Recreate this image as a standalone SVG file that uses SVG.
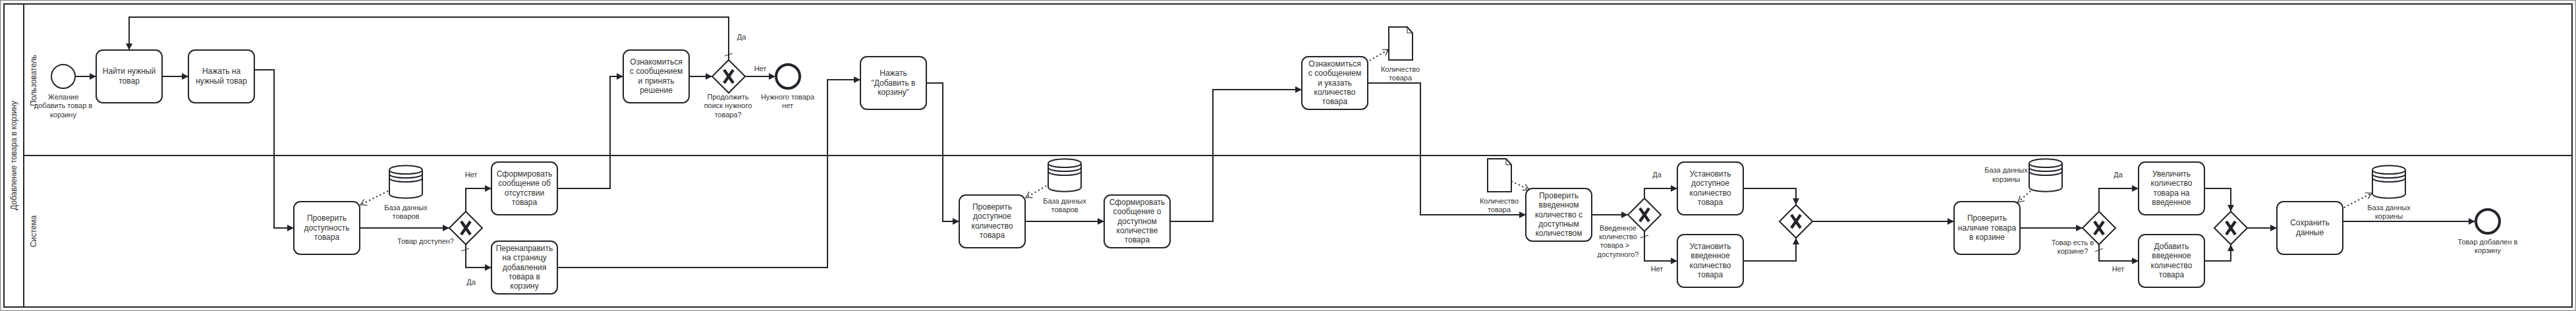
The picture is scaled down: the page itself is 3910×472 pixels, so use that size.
<svg xmlns="http://www.w3.org/2000/svg" width="3910" height="472" viewBox="0 0 3910 472">
<style>
text{font-family:"Liberation Sans",Arial,sans-serif;fill:#333;text-anchor:middle}
.t{font-size:12px}.l{font-size:11px}
.lane{font-size:12px}
.task{fill:#fff;stroke:#23252b;stroke-width:2}
.flow{fill:none;stroke:#23252b;stroke-width:2;marker-end:url(#arrow)}
.plain{fill:none;stroke:#23252b;stroke-width:1}
.data{fill:none;stroke:#23252b;stroke-width:2;stroke-dasharray:2 4;marker-end:url(#open)}
.shape{fill:#fff;stroke:#23252b;stroke-width:2}
.frame{fill:none;stroke:#23252b;stroke-width:2}
</style>
<defs>
<marker id="arrow" markerUnits="userSpaceOnUse" markerWidth="12" markerHeight="12" refX="10" refY="6" orient="auto"><path d="M0,1 L10,6 L0,11 Z" fill="#23252b"/></marker>
<marker id="open" markerUnits="userSpaceOnUse" markerWidth="14" markerHeight="14" refX="11" refY="7" orient="auto"><path d="M2,2 L11,7 L2,12" fill="none" stroke="#23252b" stroke-width="1.2"/></marker>
<g id="gw"><path class="shape" d="M0,-25 L25,0 L0,25 L-25,0 Z"/><path d="M-7,-10 L7,10 M7,-10 L-7,10" stroke="#23252b" stroke-width="4.500" fill="none"/></g>
<g id="db"><path class="shape" d="M0,7 C0,-2 50,-2 50,7 L50,43 C50,52 0,52 0,43 Z"/><path d="M0,7 C0,15 50,15 50,7 M0,13 C0,21 50,21 50,13 M0,19 C0,27 50,27 50,19" fill="none" stroke="#23252b" stroke-width="2"/></g>
<g id="doc"><path class="shape" d="M0,0 L28,0 L36,9 L36,50 L0,50 Z"/><path d="M28,0 L28,9 L36,9" fill="none" stroke="#23252b" stroke-width="1"/></g>
</defs>
<rect width="3910" height="472" fill="#fff"/>
<rect x="0.500" y="0.500" width="3909" height="471" fill="none" stroke="#8c8c8c" stroke-width="1.500"/>
<g id="pool">
<rect class="frame" x="6" y="6" width="3898" height="460"/>
<path class="frame" d="M36,6 V466 M36,236 H3904"/>
<text class="lane" transform="translate(25,236) rotate(-90)">Добавление товара в корзину</text>
<text class="lane" transform="translate(55,122) rotate(-90)">Пользователь</text>
<text class="lane" transform="translate(55,351) rotate(-90)">Система</text>
</g>
<g id="connectors">
<path class="flow" d="M114,116 H146"/>
<path class="flow" d="M246,116 H286"/>
<path class="flow" d="M386,106 H416 V346 H446"/>
<path class="flow" d="M546,346 H682"/>
<path class="flow" d="M707,321 V286 H746"/>
<path class="flow" d="M707,371 V406 H746"/>
<path class="plain" d="M700,381 L712,377"/>
<path class="flow" d="M846,286 H926 V116 H946"/>
<path class="flow" d="M846,406 H1256 V121 H1306"/>
<path class="flow" d="M1046,116 H1081"/>
<path class="flow" d="M1131,116 H1177"/>
<path class="flow" d="M1106,91 V26 H196 V76"/>
<path class="plain" d="M1100,85 L1112,81"/>
<path class="flow" d="M1406,126 H1431 V336 H1456"/>
<path class="flow" d="M1556,336 H1676"/>
<path class="flow" d="M1776,336 H1841 V136 H1976"/>
<path class="flow" d="M2076,126 H2156 V326 H2316"/>
<path class="flow" d="M2416,326 H2471"/>
<path class="flow" d="M2496,301 V286 H2546"/>
<path class="flow" d="M2496,351 V396 H2546"/>
<path class="plain" d="M2490,361 L2502,357"/>
<path class="flow" d="M2646,286 H2726 V311"/>
<path class="flow" d="M2646,396 H2726 V361"/>
<path class="flow" d="M2751,336 H2966"/>
<path class="flow" d="M3066,346 H3161"/>
<path class="flow" d="M3186,321 V286 H3246"/>
<path class="flow" d="M3186,371 V396 H3246"/>
<path class="plain" d="M3180,382 L3192,377"/>
<path class="flow" d="M3346,286 H3386 V321"/>
<path class="flow" d="M3346,396 H3386 V371"/>
<path class="flow" d="M3411,346 H3456"/>
<path class="flow" d="M3556,336 H3757"/>
<path class="data" d="M589,290 L547,311"/>
<path class="data" d="M1588,282 L1557,300"/>
<path class="data" d="M2079,92 L2108,75"/>
<path class="data" d="M2294,275 L2321,288"/>
<path class="data" d="M3082,290 L3063,307"/>
<path class="data" d="M3558,315 L3600,293"/>
</g>
<g id="start"><circle class="shape" cx="96" cy="116" r="18"/><text class="l" x="96" y="151">Желание</text><text class="l" x="96" y="164">добавить товар в</text><text class="l" x="96" y="178">корзину</text></g>
<g id="task-find"><rect class="task" x="146" y="76" width="100" height="80" rx="10"/><text class="t" x="196" y="112">Найти нужный</text><text class="t" x="196" y="127">товар</text></g>
<g id="task-click"><rect class="task" x="286" y="76" width="100" height="80" rx="10"/><text class="t" x="336" y="112">Нажать на</text><text class="t" x="336" y="127">нужный товар</text></g>
<g id="task-check"><rect class="task" x="446" y="306" width="100" height="80" rx="10"/><text class="t" x="496" y="335">Проверить</text><text class="t" x="496" y="350">доступность</text><text class="t" x="496" y="364">товара</text></g>
<g id="db-goods1"><use href="#db" x="591" y="251"/><text class="l" x="616" y="319">База данных</text><text class="l" x="616" y="332">товаров</text></g>
<g id="gw-available"><use href="#gw" x="707" y="346"/><text class="l" x="646" y="370">Товар доступен?</text><text class="l" x="715" y="269">Нет</text><text class="l" x="715" y="432">Да</text></g>
<g id="task-msg"><rect class="task" x="746" y="246" width="100" height="80" rx="10"/><text class="t" x="796" y="268">Сформировать</text><text class="t" x="796" y="282">сообщение об</text><text class="t" x="796" y="297">отсутствии</text><text class="t" x="796" y="311">товара</text></g>
<g id="task-redirect"><rect class="task" x="746" y="366" width="100" height="80" rx="10"/><text class="t" x="796" y="381">Перенаправить</text><text class="t" x="796" y="395">на страницу</text><text class="t" x="796" y="410">добавления</text><text class="t" x="796" y="424">товара в</text><text class="t" x="796" y="438">корзину</text></g>
<g id="task-read"><rect class="task" x="946" y="76" width="100" height="80" rx="10"/><text class="t" x="996" y="98">Ознакомиться</text><text class="t" x="996" y="112">с сообщением</text><text class="t" x="996" y="127">и принять</text><text class="t" x="996" y="141">решение</text></g>
<g id="gw-continue"><use href="#gw" x="1106" y="116"/><text class="l" x="1105" y="151">Продолжить</text><text class="l" x="1105" y="164">поиск нужного</text><text class="l" x="1105" y="178">товара?</text><text class="l" x="1125.500" y="60">Да</text><text class="l" x="1154" y="108">Нет</text></g>
<g id="end-none"><circle cx="1196" cy="116" r="18" fill="#fff" stroke="#23252b" stroke-width="4"/><text class="l" x="1195.500" y="151">Нужного товара</text><text class="l" x="1195.500" y="164">нет</text></g>
<g id="task-add"><rect class="task" x="1306" y="86" width="100" height="80" rx="10"/><text class="t" x="1356" y="115">Нажать</text><text class="t" x="1356" y="130">"Добавить в</text><text class="t" x="1356" y="144">корзину"</text></g>
<g id="task-check-qty"><rect class="task" x="1456" y="296" width="100" height="80" rx="10"/><text class="t" x="1506" y="318">Проверить</text><text class="t" x="1506" y="332">доступное</text><text class="t" x="1506" y="347">количество</text><text class="t" x="1506" y="361">товара</text></g>
<g id="db-goods2"><use href="#db" x="1591" y="241"/><text class="l" x="1616" y="309">База данных</text><text class="l" x="1616" y="322">товаров</text></g>
<g id="task-msg-qty"><rect class="task" x="1676" y="296" width="100" height="80" rx="10"/><text class="t" x="1726" y="311">Сформировать</text><text class="t" x="1726" y="325">сообщение о</text><text class="t" x="1726" y="340">доступном</text><text class="t" x="1726" y="354">количестве</text><text class="t" x="1726" y="368">товара</text></g>
<g id="task-enter"><rect class="task" x="1976" y="86" width="100" height="80" rx="10"/><text class="t" x="2026" y="101">Ознакомиться</text><text class="t" x="2026" y="115">с сообщением</text><text class="t" x="2026" y="130">и указать</text><text class="t" x="2026" y="144">количество</text><text class="t" x="2026" y="158">товара</text></g>
<g id="doc-qty1"><use href="#doc" x="2108" y="41"/><text class="l" x="2125.500" y="109">Количество</text><text class="l" x="2125.500" y="122">товара</text></g>
<g id="doc-qty2"><use href="#doc" x="2258" y="241"/><text class="l" x="2275.500" y="309">Количество</text><text class="l" x="2275.500" y="322">товара</text></g>
<g id="task-compare"><rect class="task" x="2316" y="286" width="100" height="80" rx="10"/><text class="t" x="2366" y="301">Проверить</text><text class="t" x="2366" y="315">введенном</text><text class="t" x="2366" y="330">количество с</text><text class="t" x="2366" y="344">доступным</text><text class="t" x="2366" y="358">количеством</text></g>
<g id="gw-more"><use href="#gw" x="2496" y="326"/><text class="l" x="2456" y="350">Введенное</text><text class="l" x="2456" y="363">количество</text><text class="l" x="2451" y="376">товара &gt;</text><text class="l" x="2456" y="390">доступного?</text><text class="l" x="2515" y="269">Да</text><text class="l" x="2515" y="412">Нет</text></g>
<g id="task-set-avail"><rect class="task" x="2546" y="246" width="100" height="80" rx="10"/><text class="t" x="2596" y="268">Установить</text><text class="t" x="2596" y="282">доступное</text><text class="t" x="2596" y="297">количество</text><text class="t" x="2596" y="311">товара</text></g>
<g id="task-set-entered"><rect class="task" x="2546" y="356" width="100" height="80" rx="10"/><text class="t" x="2596" y="378">Установить</text><text class="t" x="2596" y="392">введенное</text><text class="t" x="2596" y="407">количество</text><text class="t" x="2596" y="421">товара</text></g>
<g id="gw-merge1"><use href="#gw" x="2726" y="336"/></g>
<g id="task-check-cart"><rect class="task" x="2966" y="306" width="100" height="80" rx="10"/><text class="t" x="3016" y="335">Проверить</text><text class="t" x="3016" y="350">наличие товара</text><text class="t" x="3016" y="364">в корзине</text></g>
<g id="db-cart1"><use href="#db" x="3080" y="241"/><text class="l" x="3045" y="262">База данных</text><text class="l" x="3045" y="276">корзины</text></g>
<g id="gw-incart"><use href="#gw" x="3186" y="346"/><text class="l" x="3146" y="372">Товар есть в</text><text class="l" x="3146" y="385">корзине?</text><text class="l" x="3215" y="269">Да</text><text class="l" x="3215" y="412">Нет</text></g>
<g id="task-increase"><rect class="task" x="3246" y="246" width="100" height="80" rx="10"/><text class="t" x="3296" y="268">Увеличить</text><text class="t" x="3296" y="282">количество</text><text class="t" x="3296" y="297">товара на</text><text class="t" x="3296" y="311">введенное</text></g>
<g id="task-addqty"><rect class="task" x="3246" y="356" width="100" height="80" rx="10"/><text class="t" x="3296" y="378">Добавить</text><text class="t" x="3296" y="392">введенное</text><text class="t" x="3296" y="407">количество</text><text class="t" x="3296" y="421">товара</text></g>
<g id="gw-merge2"><use href="#gw" x="3386" y="346"/></g>
<g id="task-save"><rect class="task" x="3456" y="306" width="100" height="80" rx="10"/><text class="t" x="3506" y="342">Сохранить</text><text class="t" x="3506" y="357">данные</text></g>
<g id="db-cart2"><use href="#db" x="3601" y="251"/><text class="l" x="3626" y="319">База данных</text><text class="l" x="3626" y="332">корзины</text></g>
<g id="end-added"><circle cx="3776" cy="336" r="18" fill="#fff" stroke="#23252b" stroke-width="4"/><text class="l" x="3776" y="371">Товар добавлен в</text><text class="l" x="3776" y="384">корзину</text></g>
</svg>
